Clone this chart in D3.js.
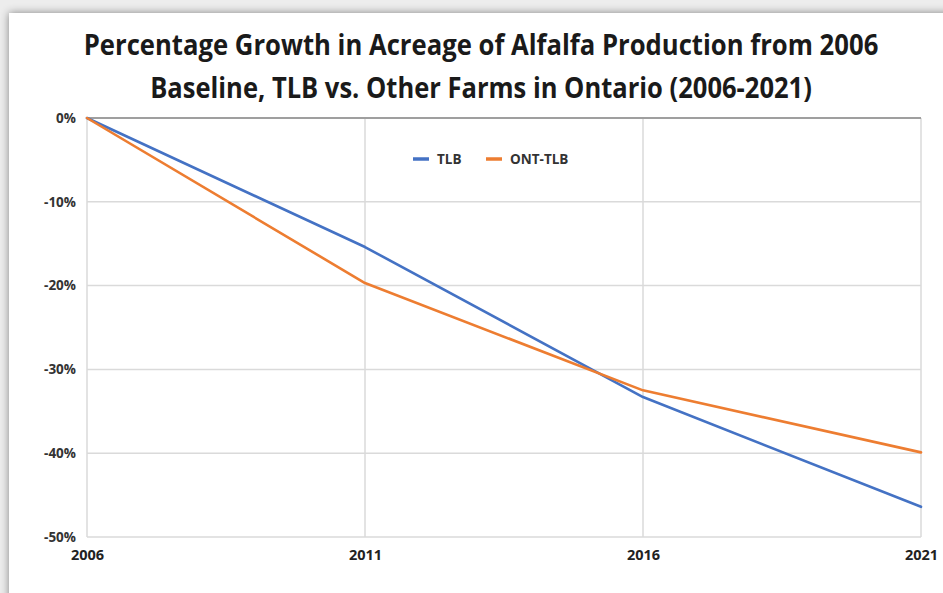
<!DOCTYPE html>
<html>
<head>
<meta charset="utf-8">
<script src="https://cdn.jsdelivr.net/npm/d3@7"></script>
<style>
  html, body { margin: 0; padding: 0; background: #ececec; }
  svg { display: block; }
</style>
</head>
<body>
<svg id="chart" width="943" height="593"></svg>
<script>
// ---- data ----
const years = [2006, 2011, 2016, 2021];
const tlb = [0, -15.4, -33.3, -46.4];
const ontTlb = [0, -19.7, -32.5, -39.9];
const seriesNames = ["TLB", "ONT-TLB"];
const seriesColors = ["#4472C4", "#ED7D31"];
const yTicks = [0, -10, -20, -30, -40, -50];
const titleLines = [
  "Percentage Growth in Acreage of Alfalfa Production from 2006",
  "Baseline, TLB vs. Other Farms in Ontario (2006-2021)"
];

const svg = d3.select("#chart");
const W = 943, H = 593;

// ---- card with shadow ----
const defs = svg.append("defs");
const f = defs.append("filter").attr("id", "shadow")
  .attr("x", "-5%").attr("y", "-5%").attr("width", "110%").attr("height", "110%");
f.append("feDropShadow").attr("dx", 0).attr("dy", 0)
  .attr("stdDeviation", 4).attr("flood-color", "#000").attr("flood-opacity", 0.45);

svg.append("rect").attr("width", W).attr("height", H).attr("fill", "#ededed");
svg.append("rect")
  .attr("x", 9).attr("y", 13).attr("width", W + 20).attr("height", H + 20)
  .attr("fill", "#ffffff").attr("filter", "url(#shadow)");

// ---- scales ----
const margin = { left: 87, right: 22, top: 118, bottom: 56 };
const x = d3.scaleLinear().domain([2006, 2021]).range([margin.left, W - margin.right]);
const y = d3.scaleLinear().domain([-50, 0]).range([H - margin.bottom, margin.top]);

// ---- title (narrowed horizontally to mimic a condensed face) ----
const titleBaselines = [55, 98];
const titleWidths = [795, 662];
const tg = svg.append("g").selectAll("g").data(titleLines).join("g");
tg.append("text")
  .attr("x", 0).attr("y", 0)
  .attr("text-anchor", "middle")
  .attr("font-family", "'Open Sans', sans-serif")
  .attr("font-weight", 700)
  .attr("font-size", 29)
  .attr("fill", "#1a1a1a")
  .text(d => d);
tg.each(function(d, i) {
  const t = d3.select(this).select("text").node();
  const natural = t.getComputedTextLength();
  const s = Math.min(1, titleWidths[i] / natural);
  d3.select(this).attr("transform", `translate(481,${titleBaselines[i]}) scale(${s},1)`);
});

// ---- gridlines ----
const grid = svg.append("g");
grid.selectAll("line.h").data(yTicks.filter(d => d !== 0)).join("line")
  .attr("class", "h")
  .attr("x1", x(2006)).attr("x2", x(2021))
  .attr("y1", d => y(d)).attr("y2", d => y(d))
  .attr("stroke", "#dadada").attr("stroke-width", 1.5);
grid.selectAll("line.v").data(years).join("line")
  .attr("class", "v")
  .attr("x1", d => x(d)).attr("x2", d => x(d))
  .attr("y1", y(0)).attr("y2", y(-50))
  .attr("stroke", "#dadada").attr("stroke-width", 1.5);
// zero line (darker)
grid.append("line")
  .attr("x1", x(2006)).attr("x2", x(2021))
  .attr("y1", y(0)).attr("y2", y(0))
  .attr("stroke", "#9f9f9f").attr("stroke-width", 2.2);

// ---- axes ----
const yAxis = d3.axisLeft(y).tickValues(yTicks).tickSize(0).tickPadding(11)
  .tickFormat(d => d + "%");
const gy = svg.append("g").attr("transform", `translate(${x(2006)},0)`).call(yAxis);
gy.select(".domain").remove();
gy.selectAll("text")
  .attr("font-family", "'Open Sans', sans-serif")
  .attr("font-weight", 700)
  .attr("font-size", 13.5)
  .attr("fill", "#333");

const xAxis = d3.axisBottom(x).tickValues(years).tickSize(0).tickPadding(13)
  .tickFormat(d3.format("d"));
const gx = svg.append("g").attr("transform", `translate(0,${y(-50)})`).call(xAxis);
gx.select(".domain").remove();
gx.selectAll("text")
  .attr("font-family", "'Open Sans', sans-serif")
  .attr("font-weight", 700)
  .attr("font-size", 14.5)
  .attr("fill", "#222");

// ---- lines ----
const seriesData = [tlb, ontTlb];
const line = d3.line().x((d, i) => x(years[i])).y(d => y(d));
svg.append("g").selectAll("path").data(seriesData).join("path")
  .attr("d", d => line(d))
  .attr("fill", "none")
  .attr("stroke", (d, i) => seriesColors[i])
  .attr("stroke-width", 2.6)
  .attr("stroke-linejoin", "round")
  .attr("stroke-linecap", "round");

// ---- legend ----
const legendX = [413, 486];
const legend = svg.append("g");
const li = legend.selectAll("g").data(seriesNames).join("g")
  .attr("transform", (d, i) => `translate(${legendX[i]},159)`);
li.append("line").attr("x1", 0).attr("x2", 16).attr("y1", 0).attr("y2", 0)
  .attr("stroke", (d, i) => seriesColors[i]).attr("stroke-width", 3.5);
li.append("text").attr("x", 24).attr("y", 5)
  .attr("font-family", "'Open Sans', sans-serif")
  .attr("font-weight", 700).attr("font-size", 13.5)
  .attr("fill", "#333")
  .text(d => d);
</script>
</body>
</html>
